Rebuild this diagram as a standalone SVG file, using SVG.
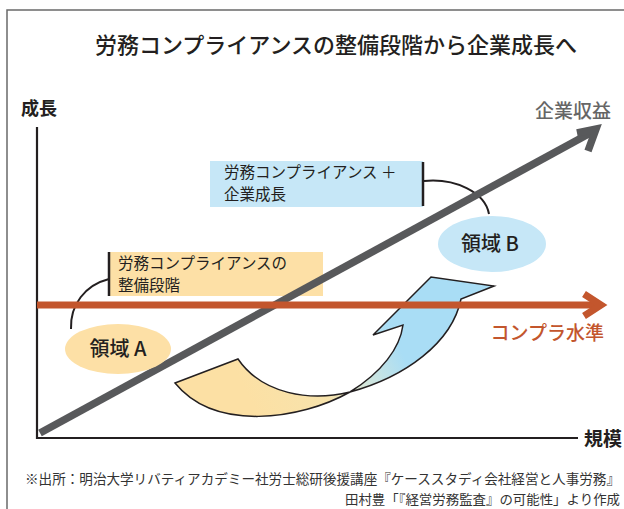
<svg xmlns="http://www.w3.org/2000/svg" width="624" height="509" viewBox="0 0 624 509">
<style>
text{font-family:"Noto Sans CJK JP","Noto Sans",sans-serif;}
.frame{fill:none;stroke:#6a6a6a;stroke-width:1.5}
.axis{fill:none;stroke:#231f20;stroke-width:2.2}
.conn{fill:none;stroke:#231f20;stroke-width:2}
.bar{stroke:#231f20;stroke-width:2.5}
.lbl{font-size:15.5px;fill:#231f20}
.ell{font-size:20px;fill:#231f20;font-weight:500;text-anchor:middle}
.note{fill:#333;text-anchor:end}
</style>
<defs>
<linearGradient id="ribbon" gradientUnits="userSpaceOnUse" x1="250" y1="400" x2="430" y2="310">
<stop offset="0" stop-color="#FCE0A4"/>
<stop offset="0.35" stop-color="#F7E3AC"/>
<stop offset="0.55" stop-color="#D3E6DC"/>
<stop offset="0.78" stop-color="#A9DDF5"/>
<stop offset="1" stop-color="#A9DDF5"/>
</linearGradient>
</defs>
<rect width="624" height="509" fill="#ffffff"/>
<path class="frame" d="M7,509 V10 H624"/>
<text x="336" y="53" font-size="22" fill="#231f20" text-anchor="middle" font-weight="500">労務コンプライアンスの整備段階から企業成長へ</text>
<text x="21" y="115" font-size="18" font-weight="bold" fill="#231f20">成長</text>
<text x="611" y="118" font-size="19" font-weight="500" fill="#666" text-anchor="end">企業収益</text>
<text x="622" y="446" font-size="19" font-weight="bold" fill="#231f20" text-anchor="end">規模</text>
<text x="604" y="340" font-size="19" font-weight="500" fill="#C3562D" text-anchor="end">コンプラ水準</text>

<g id="axes">
<path class="axis" d="M37,127 V438 H578"/>
</g>

<g id="box-b">
<rect x="210" y="161" width="213" height="46" fill="#C6E7F7"/>
<line class="bar" x1="423" y1="162" x2="423" y2="206"/>
<text class="lbl" x="224" y="178">労務コンプライアンス ＋</text>
<text class="lbl" x="224" y="200">企業成長</text>
</g>

<g id="box-a">
<rect x="108" y="252" width="215" height="44" fill="#FDE0A6"/>
<line class="bar" x1="109" y1="252" x2="109" y2="296"/>
<text class="lbl" x="118" y="269">労務コンプライアンスの</text>
<text class="lbl" x="118" y="291">整備段階</text>
</g>

<g id="connectors">
<path class="conn" d="M424,181 C455,178 485,192 489,214"/>
<path class="conn" d="M109,279 C85,285 70,305 71,329"/>
</g>

<g id="revenue-arrow">
<line x1="40" y1="433" x2="594" y2="131" stroke="#58595b" stroke-width="7.5"/>
<polyline points="577,133 596,129 588,151" fill="none" stroke="#58595b" stroke-width="7.5" stroke-linejoin="miter"/>
</g>

<g id="growth-arrow">
<path d="M175,383 L238,359 C262,394 310,402 350,392 C405,377 452,343 461,299 L494,286 L431,277 L373,335 L403,325 C400,348 382,372 350,392 C300,420 215,432 175,383 Z" fill="url(#ribbon)" stroke="#231f20" stroke-width="1.5" stroke-linejoin="miter"/>
</g>

<g id="compliance-arrow">
<line x1="37" y1="305" x2="600" y2="305" stroke="#C3562D" stroke-width="7"/>
<polyline points="584,294 601,305 584,316" fill="none" stroke="#C3562D" stroke-width="7" stroke-linejoin="miter"/>
</g>

<g id="area-a">
<ellipse cx="118" cy="349" rx="53" ry="25" fill="#FDE0A6"/>
<text class="ell" x="118" y="356">領域 A</text>
</g>

<g id="area-b">
<ellipse cx="492" cy="244" rx="54" ry="28" fill="#C6E7F7"/>
<text class="ell" x="490" y="251">領域 B</text>
</g>

<text class="note" x="620" y="484" font-size="13.4" textLength="595" lengthAdjust="spacingAndGlyphs">※出所：明治大学リバティアカデミー社労士総研後援講座『ケーススタディ会社経営と人事労務』</text>
<text class="note" x="620" y="504" font-size="13" textLength="275" lengthAdjust="spacingAndGlyphs">田村豊「『経営労務監査』の可能性」より作成</text>
</svg>
